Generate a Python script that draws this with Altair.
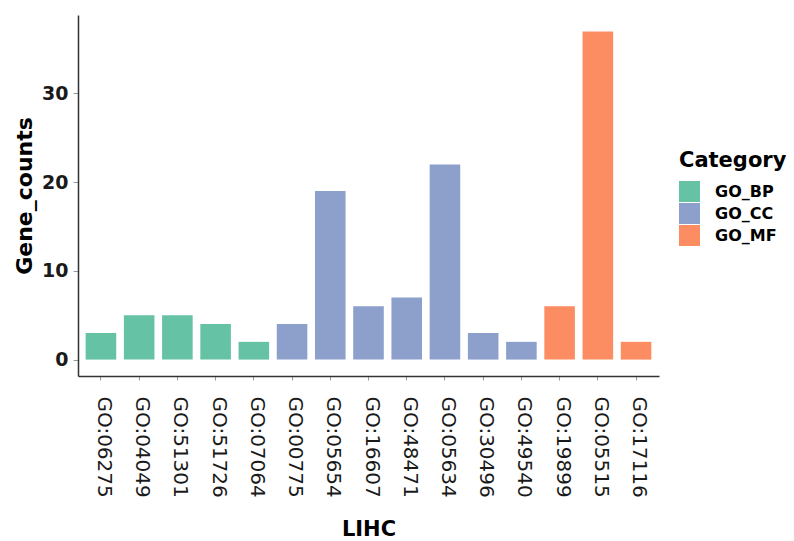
import altair as alt
import pandas as pd

terms = ["GO:06275", "GO:04049", "GO:51301", "GO:51726", "GO:07064",
         "GO:00775", "GO:05654", "GO:16607", "GO:48471", "GO:05634",
         "GO:30496", "GO:49540", "GO:19899", "GO:05515", "GO:17116"]
counts = [3, 5, 5, 4, 2, 4, 19, 6, 7, 22, 3, 2, 6, 37, 2]
categories = ["GO_BP"] * 5 + ["GO_CC"] * 7 + ["GO_MF"] * 3
cat_domain = ["GO_BP", "GO_CC", "GO_MF"]
cat_colors = ["#66C2A5", "#8DA0CB", "#FC8D62"]
y_ticks = [0, 10, 20, 30]

df = pd.DataFrame({"term": terms, "count": counts, "Category": categories})

FONT = "DejaVu Sans"

chart = alt.Chart(df).mark_bar().encode(
    x=alt.X("term:N", sort=terms,
            scale=alt.Scale(paddingInner=0.2, paddingOuter=0.2),
            axis=alt.Axis(title="LIHC", labelAngle=90, labelFontSize=20,
                          labelFont=FONT, labelColor="#1a1a1a", labelPadding=16,
                          labelOffset=3,
                          tickSize=4, tickColor="#999999", tickWidth=1,
                          domainColor="#333333", domainWidth=1.5,
                          titleFont=FONT, titleFontSize=21, titleFontWeight="bold",
                          titleColor="#000000", titleBaseline="alphabetic",
                          titleX=290.5, titleY=159)),
    y=alt.Y("count:Q",
            scale=alt.Scale(domain=[-1.85, 38.85], nice=False, zero=False),
            axis=alt.Axis(title="Gene_counts", values=y_ticks, grid=False,
                          labelFontSize=19, labelFont=FONT, labelFontWeight="bold",
                          labelColor="#1a1a1a", labelPadding=5,
                          tickSize=5, tickColor="#999999", tickWidth=1,
                          domainColor="#333333", domainWidth=1.5,
                          titleFont=FONT, titleFontSize=22, titleFontWeight="bold",
                          titleColor="#000000", titleBaseline="alphabetic",
                          titleAngle=-90, titleX=-47, titleY=180.5)),
    color=alt.Color("Category:N",
                    scale=alt.Scale(domain=cat_domain, range=cat_colors),
                    legend=alt.Legend(title="Category", orient="none",
                                      legendX=601, legendY=135, padding=0,
                                      titleFont=FONT, titleFontSize=21,
                                      titleFontWeight="bold", titleColor="#000000",
                                      titlePadding=10,
                                      labelFont=FONT, labelFontSize=16,
                                      labelFontWeight="bold", labelColor="#000000",
                                      labelOffset=15,
                                      symbolType="square", symbolSize=441,
                                      symbolStrokeWidth=0, symbolOpacity=1,
                                      rowPadding=1))
).properties(
    width=581, height=361,
    autosize=alt.AutoSizeParams(type="none"),
    padding={"left": 70, "top": 7, "right": 127, "bottom": 164}
).configure(background="white").configure_view(stroke=None)

chart.save("out.html", embed_options={"renderer": "svg", "actions": False})
